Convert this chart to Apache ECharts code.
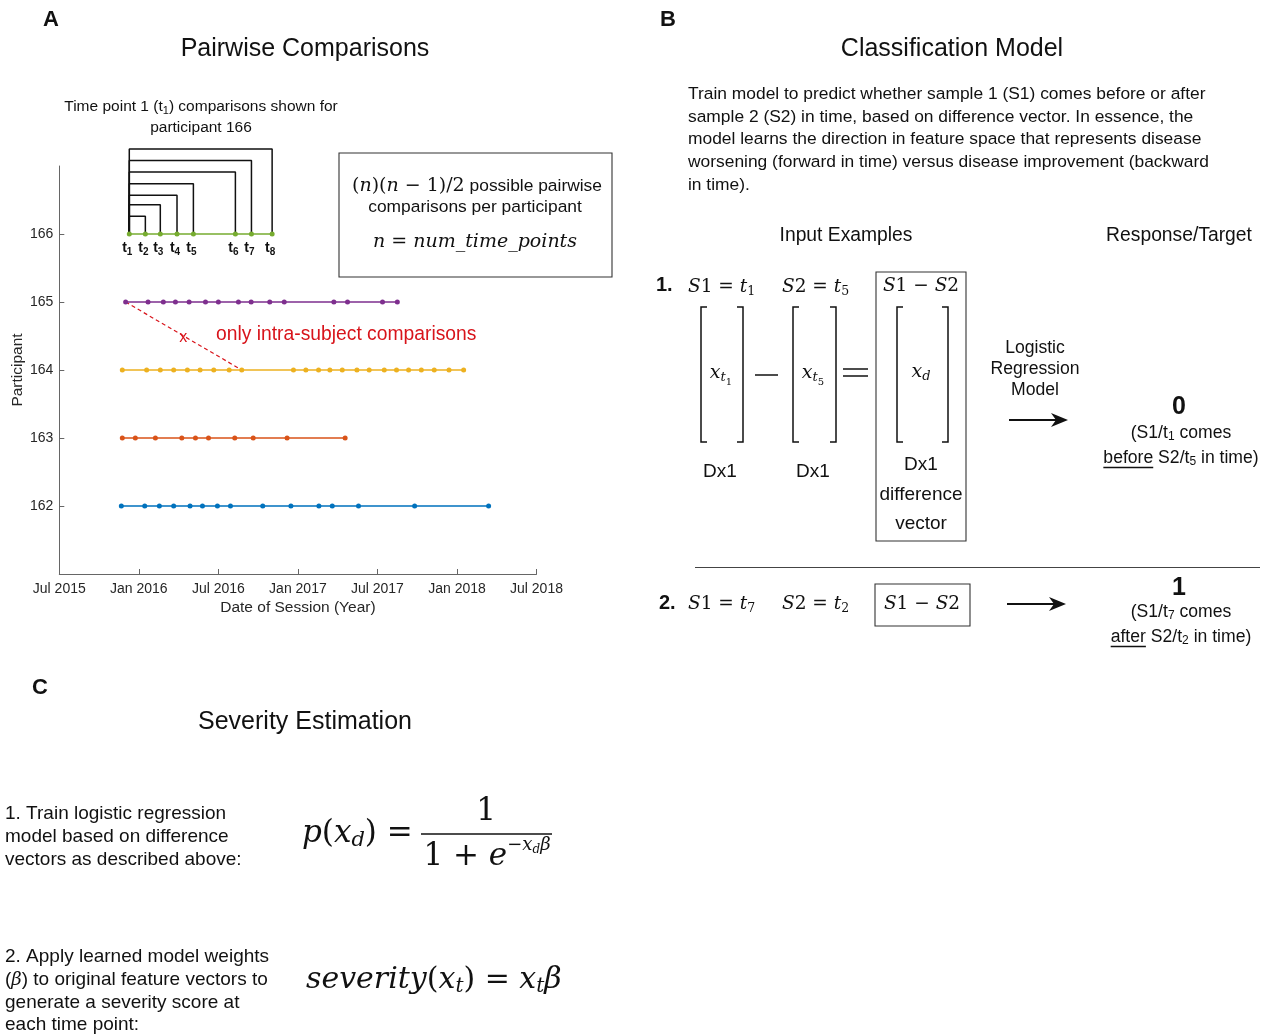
<!DOCTYPE html>
<html>
<head>
<meta charset="utf-8">
<script src="https://cdn.jsdelivr.net/npm/echarts@6/dist/echarts.min.js"></script>
<style>
  html, body { margin: 0; padding: 0; background: #fff; }
  #main { width: 1268px; height: 1034px; }
</style>
</head>
<body>
<div id="main"></div>
<script>
// session dates (decimal years)
const p162 = [2015.890, 2016.037, 2016.129, 2016.219, 2016.322, 2016.400, 2016.494, 2016.576,
              2016.779, 2016.956, 2017.132, 2017.216, 2017.381, 2017.734, 2018.199];
const p163 = [2015.896, 2015.978, 2016.104, 2016.270, 2016.356, 2016.438, 2016.603, 2016.719,
              2016.932, 2017.297];
const p164 = [2015.896, 2016.049, 2016.135, 2016.219, 2016.305, 2016.385, 2016.471, 2016.568,
              2016.647, 2016.972, 2017.050, 2017.130, 2017.201, 2017.279, 2017.371, 2017.448,
              2017.543, 2017.620, 2017.696, 2017.776, 2017.857, 2017.950, 2018.042];
const p165 = [2015.917, 2016.058, 2016.154, 2016.230, 2016.316, 2016.419, 2016.500, 2016.626,
              2016.706, 2016.823, 2016.914, 2017.226, 2017.312, 2017.532, 2017.625];
const p166 = [2015.940, 2016.041, 2016.135, 2016.240, 2016.343, 2016.607, 2016.708, 2016.838];

const participants = [162, 163, 164, 165, 166];
const sessions = [p162, p163, p164, p165, p166];
const lineColors = ['#0072BD', '#D95319', '#EDB120', '#7E2F8E', '#77AC30'];

// heights (above 166) of the t1 -> tk comparison brackets
const bracketHeights = [0.26, 0.43, 0.57, 0.74, 0.91, 1.08, 1.25];

const xTickLabels = ['Jul 2015', 'Jan 2016', 'Jul 2016', 'Jan 2017', 'Jul 2017', 'Jan 2018', 'Jul 2018'];

const SANS = '"Liberation Sans", Arial, Helvetica, sans-serif';
const SERIF = '"DejaVu Serif", "Liberation Serif", serif';
const RED = '#d8141b';
const INK = '#111';

const chart = echarts.init(document.getElementById('main'), null, { renderer: 'canvas' });

let series = [];
sessions.forEach((arr, i) => {
  series.push({
    type: 'line',
    data: arr.map(d => [d, participants[i]]),
    symbol: 'circle',
    symbolSize: 5,
    showSymbol: true,
    itemStyle: { color: lineColors[i] },
    lineStyle: { color: lineColors[i], width: 1.6 },
    z: 4,
    clip: false,
    animation: false,
    silent: true
  });
});
// comparison brackets for participant 166, t1 against every later time point
bracketHeights.forEach((h, k) => {
  series.push({
    type: 'line',
    data: [[p166[0], 166], [p166[0], 166 + h], [p166[k + 1], 166 + h], [p166[k + 1], 166]],
    symbol: 'none',
    lineStyle: { color: INK, width: 1.5 },
    z: 3,
    clip: false,
    animation: false,
    silent: true
  });
});
// crossed-out inter-subject comparison
series.push({
  type: 'line',
  data: [[p165[0], 165], [p164[8], 164]],
  symbol: 'none',
  lineStyle: { color: RED, width: 1.2, type: [4, 3] },
  z: 2,
  clip: false,
  animation: false,
  silent: true
});

const option = {
  backgroundColor: '#fff',
  animation: false,
  grid: { left: 59.3, right: 731.5, top: 166, bottom: 460, containLabel: false },
  xAxis: {
    type: 'value',
    min: 2015.5,
    max: 2018.5,
    interval: 0.5,
    axisLine: { lineStyle: { color: '#666', width: 1 } },
    axisTick: { inside: true, length: 5, lineStyle: { color: '#666' } },
    splitLine: { show: false },
    axisLabel: {
      color: '#262626', fontSize: 14, fontFamily: SANS, margin: 8,
      formatter: v => xTickLabels[Math.round((v - 2015.5) * 2)]
    },
    name: 'Date of Session (Year)',
    nameLocation: 'middle',
    nameGap: 26,
    nameTextStyle: { color: '#262626', fontSize: 15.5, fontFamily: SANS }
  },
  yAxis: {
    type: 'value',
    min: 161,
    max: 167,
    interval: 1,
    axisLine: { show: true, lineStyle: { color: '#666', width: 1 } },
    axisTick: { show: true, inside: true, length: 5, lineStyle: { color: '#666' }, customValues: participants },
    splitLine: { show: false },
    axisLabel: { color: '#262626', fontSize: 14, fontFamily: SANS, margin: 6, customValues: participants },
    name: 'Participant',
    nameLocation: 'middle',
    nameGap: 31,
    nameRotate: 90,
    nameTextStyle: { color: '#262626', fontSize: 15.5, fontFamily: SANS }
  },
  series: series
};
chart.setOption(option);

// ---------- text helpers ----------
const mctx = document.createElement('canvas').getContext('2d');
function w(t, font) { mctx.font = font; return mctx.measureText(t).width; }
function sans(sz, bold) { return (bold ? 'bold ' : '') + sz + 'px ' + SANS; }
function ri(sz) { return 'italic ' + sz + 'px ' + SERIF; }
function rr(sz) { return sz + 'px ' + SERIF; }

// parts: [text, font, dy, color]
function seq(x, y, parts, align) {
  const ws = parts.map(p => w(p[0], p[1]));
  const total = ws.reduce((a, b) => a + b, 0);
  const sx = align === 'center' ? x - total / 2 : (align === 'right' ? x - total : x);
  let cx = sx;
  const out = [];
  parts.forEach((p, i) => {
    out.push({
      type: 'text', x: cx, y: y + (p[2] || 0), silent: true,
      style: { text: p[0], font: p[1], fill: p[3] || INK, textAlign: 'left', textVerticalAlign: 'middle' }
    });
    cx += ws[i];
  });
  out.startX = sx;
  out.total = total;
  return out;
}
function txt(x, y, t, font, align, color) {
  return {
    type: 'text', x: x, y: y, silent: true,
    style: { text: t, font: font, fill: color || INK, textAlign: align || 'left', textVerticalAlign: 'middle' }
  };
}
function ln(x1, y1, x2, y2, width, color) {
  return { type: 'line', silent: true, shape: { x1: x1, y1: y1, x2: x2, y2: y2 },
    style: { stroke: color || INK, lineWidth: width || 1.3 } };
}
function box(x1, y1, x2, y2) {
  return { type: 'rect', silent: true, shape: { x: x1, y: y1, width: x2 - x1, height: y2 - y1 },
    style: { fill: null, stroke: '#333', lineWidth: 1.1 } };
}
function bracket(x, top, bot, dir) {
  return { type: 'polyline', silent: true,
    shape: { points: [[x + 6 * dir, top], [x, top], [x, bot], [x + 6 * dir, bot]] },
    style: { fill: null, stroke: INK, lineWidth: 1.5 } };
}
function arrow(x1, x2, y) {
  return [ln(x1, y, x2 - 10, y, 2),
    { type: 'polygon', silent: true, shape: { points: [[x2, y], [x2 - 17, y - 7], [x2 - 12, y], [x2 - 17, y + 7]] },
      style: { fill: INK } }];
}
// S1 = t_k style labels
function assign(x, y, s, k) {
  const M = 18.5;
  return seq(x, y, [['S', ri(M)], [s, rr(M)], [' = ', rr(M)], ['t', ri(M)], [k, rr(12.5), 5]], 'left');
}
function diffLabel(x, y) {
  const M = 18.5;
  return seq(x, y, [['S', ri(M)], ['1', rr(M)], [' \u2212 ', rr(M)], ['S', ri(M)], ['2', rr(M)]], 'center');
}

let g = [];

// ---------- panel A ----------
g.push(txt(51, 20, 'A', sans(22, true), 'center'));
g.push(txt(305, 49, 'Pairwise Comparisons', sans(25), 'center'));
g = g.concat(seq(201, 107, [['Time point 1 (t', sans(15.5)], ['1', sans(11), 4], [') comparisons shown for', sans(15.5)]], 'center'));
g.push(txt(201, 128, 'participant 166', sans(15.5), 'center'));

g.push(box(339, 153, 612, 277));
g = g.concat(seq(352, 186, [['(', rr(19)], ['n', ri(19)], [')(', rr(19)], ['n', ri(19)], [' \u2212 1)/2', rr(19)], [' possible pairwise', sans(17.4)]], 'left'));
g.push(txt(475, 207, 'comparisons per participant', sans(17.4), 'center'));
g = g.concat(seq(475, 242, [['n', ri(19)], [' = ', rr(19)], ['num_time_points', ri(19)]], 'center'));

g.push(txt(216, 335, 'only intra-subject comparisons', sans(19.3), 'left', RED));
const xPos = chart.convertToPixel({ gridIndex: 0 }, [2016.28, 164.47]);
g.push(txt(xPos[0], xPos[1], 'x', sans(16), 'center', RED));

// t1..t8 labels under participant 166
p166.forEach((d, i) => {
  const p = chart.convertToPixel({ gridIndex: 0 }, [d, 166]);
  g = g.concat(seq(p[0] - 2, p[1] + 14, [['t', sans(14, true)], [String(i + 1), sans(10, true), 4]], 'center'));
});

// ---------- panel B ----------
g.push(txt(668, 20, 'B', sans(22, true), 'center'));
g.push(txt(952, 49, 'Classification Model', sans(25), 'center'));
const para = [
  'Train model to predict whether sample 1 (S1) comes before or after',
  'sample 2 (S2) in time, based on difference vector. In essence, the',
  'model learns the direction in feature space that represents disease',
  'worsening (forward in time) versus disease improvement (backward',
  'in time).'
];
para.forEach((t, i) => g.push(txt(688, 94.5 + i * 22.6, t, sans(17.4))));
g.push(txt(846, 236, 'Input Examples', sans(19.3), 'center'));
g.push(txt(1179, 236, 'Response/Target', sans(19.3), 'center'));

// example 1
g.push(txt(656, 285, '1.', sans(20, true)));
g = g.concat(assign(688, 287, '1', '1'));
g = g.concat(assign(782, 287, '2', '5'));
g.push(box(876, 272, 966, 541));
g = g.concat(diffLabel(921, 286));
[[701, 743], [793, 836], [897, 948]].forEach(b => {
  g.push(bracket(b[0], 307, 442, 1));
  g.push(bracket(b[1], 307, 442, -1));
});
g = g.concat(seq(721, 373, [['x', ri(19)], ['t', ri(13), 5], ['1', rr(10), 9]], 'center'));
g.push(ln(755, 375, 778, 375, 1.5));
g = g.concat(seq(813, 373, [['x', ri(19)], ['t', ri(13), 5], ['5', rr(10), 9]], 'center'));
g.push(ln(843, 369, 868, 369, 1.5));
g.push(ln(843, 376, 868, 376, 1.5));
g = g.concat(seq(921, 372, [['x', ri(19)], ['d', ri(13), 5]], 'center'));
g.push(txt(720, 472, 'Dx1', sans(19), 'center'));
g.push(txt(813, 472, 'Dx1', sans(19), 'center'));
g.push(txt(921, 465, 'Dx1', sans(19), 'center'));
g.push(txt(921, 495, 'difference', sans(19), 'center'));
g.push(txt(921, 524, 'vector', sans(19), 'center'));
g.push(txt(1035, 348, 'Logistic', sans(17.6), 'center'));
g.push(txt(1035, 369, 'Regression', sans(17.6), 'center'));
g.push(txt(1035, 390, 'Model', sans(17.6), 'center'));
g = g.concat(arrow(1009, 1068, 420));
g.push(txt(1179, 407, '0', sans(25, true), 'center'));
g = g.concat(seq(1181, 433, [['(S1/t', sans(17.6)], ['1', sans(12), 4], [' comes', sans(17.6)]], 'center'));
const r1 = seq(1181, 458, [['before', sans(17.6)], [' S2/t', sans(17.6)], ['5', sans(12), 4], [' in time)', sans(17.6)]], 'center');
g = g.concat(r1);
g.push(ln(r1.startX, 467.5, r1.startX + w('before', sans(17.6)), 467.5, 1.3));

g.push(ln(695, 567.5, 1260, 567.5, 1.2, '#444'));

// example 2
g.push(txt(659, 603, '2.', sans(20, true)));
g = g.concat(assign(688, 604, '1', '7'));
g = g.concat(assign(782, 604, '2', '2'));
g.push(box(875, 584, 970, 626));
g = g.concat(diffLabel(922, 604));
g = g.concat(arrow(1007, 1066, 604));
g.push(txt(1179, 588, '1', sans(25, true), 'center'));
g = g.concat(seq(1181, 612, [['(S1/t', sans(17.6)], ['7', sans(12), 4], [' comes', sans(17.6)]], 'center'));
const r2 = seq(1181, 637, [['after', sans(17.6)], [' S2/t', sans(17.6)], ['2', sans(12), 4], [' in time)', sans(17.6)]], 'center');
g = g.concat(r2);
g.push(ln(r2.startX, 646.5, r2.startX + w('after', sans(17.6)), 646.5, 1.3));

// ---------- panel C ----------
g.push(txt(40, 688, 'C', sans(22, true), 'center'));
g.push(txt(305, 722, 'Severity Estimation', sans(25), 'center'));
['1. Train logistic regression', 'model based on difference', 'vectors as described above:']
  .forEach((t, i) => g.push(txt(5, 814 + i * 23, t, sans(19))));
g = g.concat(seq(302, 834, [['p', ri(31)], ['(', rr(31)], ['x', ri(31)], ['d', ri(21), 7], [')', rr(31)], [' = ', rr(31)]], 'left'));
g.push(txt(486, 812, '1', rr(31), 'center'));
g.push(ln(421, 834, 552, 834, 1.6));
g = g.concat(seq(487, 857, [['1 + ', rr(31)], ['e', ri(31)], ['\u2212', rr(18), -12], ['x', ri(18), -12], ['d', ri(12), -7], ['\u03B2', ri(18), -12]], 'center'));

g.push(txt(5, 957, '2. Apply learned model weights', sans(19)));
g = g.concat(seq(5, 980, [['(', sans(19)], ['\u03B2', ri(18)], [') to original feature vectors to', sans(19)]], 'left'));
g.push(txt(5, 1003, 'generate a severity score at', sans(19)));
g.push(txt(5, 1025, 'each time point:', sans(19)));
g = g.concat(seq(306, 980, [['severity', ri(30)], ['(', rr(30)], ['x', ri(30)], ['t', ri(20), 7], [')', rr(30)], [' = ', rr(30)],
  ['x', ri(30)], ['t', ri(20), 7], ['\u03B2', ri(30)]], 'left'));

chart.setOption({ graphic: { elements: g } });
</script>
</body>
</html>
